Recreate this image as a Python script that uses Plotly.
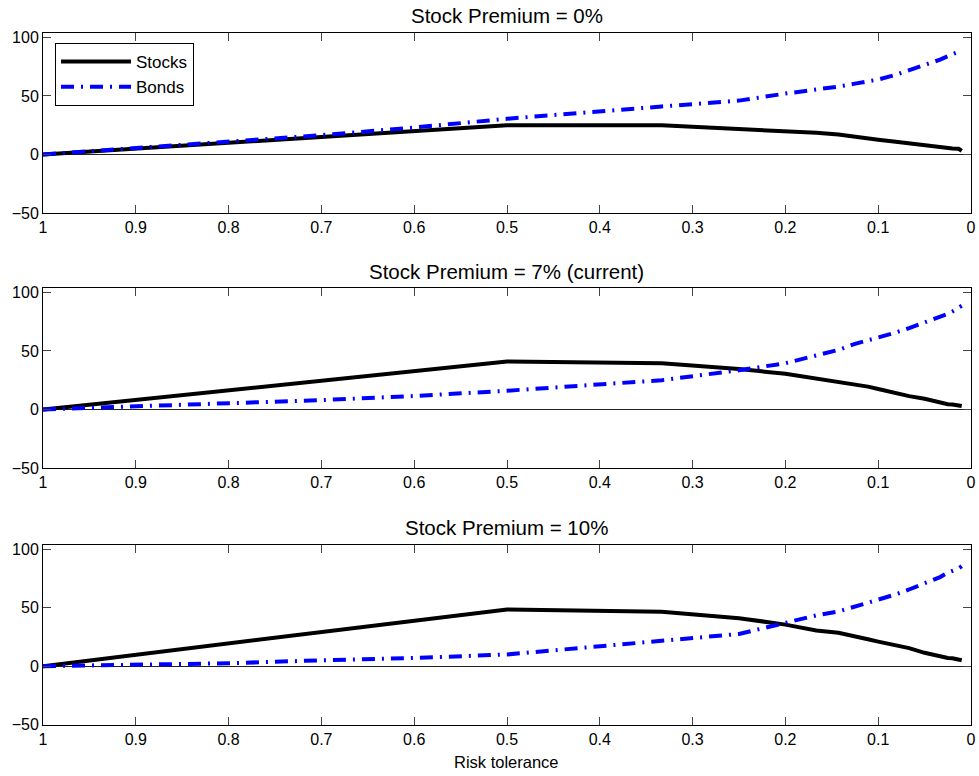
import plotly.graph_objects as go

# Risk tolerance grid
risk_tol = [1.0, 0.9, 0.8, 0.7, 0.6, 0.5, 0.3333, 0.25, 0.2, 0.1667, 0.1429, 0.125,
            0.1111, 0.1, 0.0833, 0.0667, 0.05, 0.04, 0.0333, 0.025, 0.02, 0.0133, 0.01]

titles = ["Stock Premium = 0%", "Stock Premium = 7% (current)", "Stock Premium = 10%"]

stocks_0 = [0, 5, 10, 15, 20, 25, 25, 22, 20, 18.5, 17, 15, 13, 12.5, 11, 9.3, 7.6, 6.8,
            5.8, 5.2, 5, 4.8, 3]
bonds_0 = [0, 5.5, 11, 16.5, 23, 30.5, 41, 46, 52, 55, 58, 60.5, 62, 64, 67.5, 72, 77, 79,
           81, 84, 85.5, 87.5, 89]

stocks_7 = [0, 8.2, 16.4, 24.6, 32.8, 41, 39.5, 34.5, 30.5, 26.6, 23.7, 21.5, 19.5, 17.5,
            14.3, 11.4, 9.2, 7.2, 6, 4.5, 4.3, 3.5, 2.9]
bonds_7 = [0, 2.5, 5, 8, 11.5, 16, 25, 33.5, 39.5, 46.6, 50.9, 56, 59, 61, 65.2, 69.5, 74.3,
           77.1, 78.9, 81.7, 83.7, 86.5, 88.6]

stocks_10 = [0, 9.8, 19.6, 29.4, 39.2, 48.5, 46.5, 41, 35.5, 30.5, 28.5, 25, 23, 21, 18.2,
             15.4, 11.4, 9.5, 8.1, 7, 6.8, 6, 5]
bonds_10 = [0, 1, 2.5, 5, 7, 10, 22, 27.5, 37, 43.4, 46.7, 50.9, 53.8, 56.6, 60.8, 65.5, 71,
            74.2, 76.1, 79.8, 81.2, 83.5, 85.4]

x_ticks = [1, 0.9, 0.8, 0.7, 0.6, 0.5, 0.4, 0.3, 0.2, 0.1, 0]
x_ticklabels = ["1", "0.9", "0.8", "0.7", "0.6", "0.5", "0.4", "0.3", "0.2", "0.1", "0"]
y_ticks = [-50, 0, 50, 100]
y_ticklabels = ["\u221250", "0", "50", "100"]

stocks_all = [stocks_0, stocks_7, stocks_10]
bonds_all = [bonds_0, bonds_7, bonds_10]

W, H = 979, 776
FONT = "Liberation Sans, Arial, Helvetica, sans-serif"

# pixel layout of panels (top, bottom)
panel_px = [(33.3, 213.0), (288.3, 468.0), (545.0, 724.7)]
x_left, x_right = 43.0, 971.0
title_px = [15, 271, 527]

fig = go.Figure()
for i in range(3):
    suffix = "" if i == 0 else str(i + 1)
    fig.add_trace(go.Scatter(
        x=risk_tol, y=stocks_all[i], mode="lines", name="Stocks",
        line=dict(color="black", width=4),
        xaxis="x" + suffix, yaxis="y" + suffix, showlegend=(i == 0)))
    fig.add_trace(go.Scatter(
        x=risk_tol, y=bonds_all[i], mode="lines", name="Bonds",
        line=dict(color="#0000ff", width=4, dash="13px,7px,2px,7px"),
        xaxis="x" + suffix, yaxis="y" + suffix, showlegend=(i == 0)))

layout = dict(
    template="none",
    width=W, height=H,
    margin=dict(l=0, r=0, t=0, b=0, autoexpand=False),
    paper_bgcolor="white", plot_bgcolor="white",
    font=dict(family=FONT, size=16, color="black"),
    showlegend=True,
    legend=dict(x=55 / W, y=1 - 43 / H, xanchor="left", yanchor="top",
                bordercolor="black", borderwidth=1, bgcolor="white",
                font=dict(size=17, family=FONT), itemwidth=70, tracegroupgap=0),
    annotations=[],
)

for i in range(3):
    suffix = "" if i == 0 else str(i + 1)
    top, bot = panel_px[i]
    layout["xaxis" + suffix] = dict(
        domain=[x_left / W, x_right / W], range=[1, 0], anchor="y" + suffix,
        tickmode="array", tickvals=x_ticks, ticktext=x_ticklabels,
        ticks="inside", ticklen=8, tickcolor="#444", tickwidth=1,
        showline=True, linecolor="black", linewidth=1, mirror="ticks",
        showgrid=False, zeroline=False, automargin=False,
        tickfont=dict(size=16, family=FONT),
    )
    layout["yaxis" + suffix] = dict(
        domain=[1 - bot / H, 1 - top / H], range=[-50, 103.5], anchor="x" + suffix,
        tickmode="array", tickvals=y_ticks, ticktext=y_ticklabels,
        ticks="inside", ticklen=8, tickcolor="#444", tickwidth=1,
        showline=True, linecolor="black", linewidth=1, mirror="ticks",
        showgrid=False, zeroline=True, zerolinecolor="#222", zerolinewidth=1.2,
        automargin=False, tickfont=dict(size=16, family=FONT),
    )
    layout["annotations"].append(dict(
        text=titles[i], x=(x_left + x_right) / 2 / W, y=1 - title_px[i] / H,
        xref="paper", yref="paper", xanchor="center", yanchor="middle",
        showarrow=False, font=dict(size=20.5, family=FONT)))

layout["annotations"].append(dict(
    text="Risk tolerance", x=(x_left + x_right) / 2 / W, y=1 - 762 / H,
    xref="paper", yref="paper", xanchor="center", yanchor="middle",
    showarrow=False, font=dict(size=16.5, family=FONT)))

fig.update_layout(**layout)
fig.write_html("out.html")
